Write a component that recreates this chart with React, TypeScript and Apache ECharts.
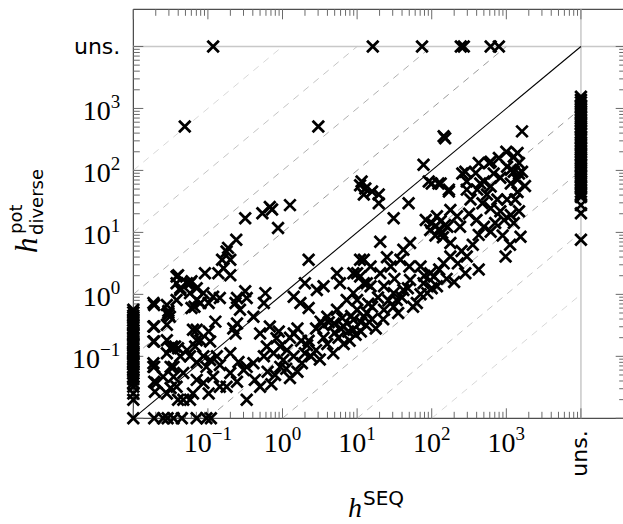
import React, { useEffect, useRef } from 'react';
import * as echarts from 'echarts';

// Both axes are logarithmic: values below are log10 of h.
const AXIS_MIN = -2;
const AXIS_MAX = 4.6;
const UNS_POS = 4; // where "uns." sits on both axes
const decadeLabels = [-1, 0, 1, 2, 3];
const tickDecades = [-2, -1, 0, 1, 2, 3];
const minorMultipliers = [2, 3, 4, 5, 6, 7, 8, 9];
const refOffsets = [-4, -3, -2, -1, 1, 2, 3, 4];
const refColors: Record<number, string> = { 1: '#9a9a9a', 2: '#b0b0b0', 3: '#c4c4c4', 4: '#d8d8d8' };

// log10 h^pot of points on the left edge (h^SEQ = 10^-2)
const leftEdgePot = [-0.25, -0.29, -0.34, -0.37, -0.42, -0.46, -0.49, -0.54, -0.58, -0.63, -0.66, -0.71, -0.76, -0.8, -0.83, -0.88, -0.93, -0.96, -1.01, -1.06, -1.1, -1.13, -1.19, -1.24, -1.28, -1.33, -1.37, -1.43, -1.49, -1.6, -1.7, -2.0];
// log10 h^SEQ of points on the bottom edge (h^pot = 10^-2)
const bottomEdgeSeq = [-1.72, -1.6, -1.54, -1.46, -1.35, -1.15, -1.02, -0.96];
// log10 h^pot of points with h^SEQ = uns.
const unsSeqPot = [3.19, 3.14, 3.1, 3.05, 3.01, 2.96, 2.92, 2.87, 2.83, 2.78, 2.74, 2.69, 2.65, 2.6, 2.55, 2.51, 2.46, 2.42, 2.37, 2.33, 2.28, 2.24, 2.19, 2.15, 2.1, 2.06, 2.01, 1.97, 1.92, 1.88, 1.83, 1.79, 1.74, 1.7, 1.65, 1.61, 1.57, 1.44, 1.31, 0.88];
// log10 h^SEQ of points with h^pot = uns.
const unsPotSeq = [-0.93, 1.21, 1.87, 2.39, 2.43, 2.79, 2.9];
// [log10 h^SEQ, log10 h^pot]
const cloud: [number, number][] = [
  [-1.72, -0.17], [-1.72, -0.52], [-1.72, -0.76], [-1.72, -1.17], [-1.72, -1.41], [-1.71, -1.57],
  [-1.53, -0.27], [-1.53, -0.33], [-1.5, -0.87], [-1.5, -1.17], [-1.46, -1.33], [-1.5, -1.51],
  [-1.42, 0.29], [-1.42, -0.09], [-1.37, 0.07], [-1.44, -0.84], [-1.37, -1.0], [-1.33, -1.27], [-1.2, -1.6], [-1.33, -1.7],
  [-1.24, 0.18], [-1.15, -0.09], [-1.18, -0.2], [-1.2, -0.57], [-1.15, -0.74], [-1.24, -1.0], [-1.15, -1.1], [-1.15, -1.38],
  [-0.75, 0.69], [-0.81, 0.56], [-0.7, 0.56], [-0.79, 0.42], [-0.86, 0.34], [-0.7, 0.31], [-1.04, 0.34], [-1.22, 0.21],
  [-1.4, 0.31], [-1.42, 0.18], [-1.37, 0.1], [-1.28, 0.18], [-1.15, 0.1], [-1.24, 0.02], [-1.06, 0.02], [-0.93, -0.04],
  [-0.84, -0.06], [-1.1, -0.14], [-1.22, -0.22], [-0.99, -0.14], [-0.61, -0.06], [-0.5, 0.05], [-0.57, -0.25], [-0.63, -0.14],
  [-0.23, 0.02], [-0.25, -0.14], [-0.39, -0.36], [-0.48, -0.06],
  [-1.73, -0.14], [-1.55, -0.17], [-1.53, -0.3], [-1.51, -0.36], [-1.73, -0.52], [-1.55, -0.49], [-1.73, -0.76], [-1.55, -0.74],
  [-1.48, -0.84], [-1.73, -1.11], [-1.55, -0.95], [-1.4, -0.87], [-1.28, -0.9], [-1.17, -0.84], [-1.1, -0.74], [-1.15, -0.57],
  [-0.99, -0.6], [-0.9, -0.44], [-0.97, -0.76], [-1.06, -1.0], [-0.97, -1.06], [-0.88, -1.0], [-1.02, -1.17], [-0.84, -1.14],
  [-0.66, -0.55], [-0.61, -0.47], [-0.63, -0.63], [-0.7, -0.95], [-0.59, -1.09], [-0.48, -1.17], [-0.39, -1.11], [-0.3, -0.63],
  [-0.17, -0.52], [-0.08, -0.71], [-0.21, -0.84], [-0.03, -0.84], [0.06, -0.9], [-0.12, -0.95], [-0.25, -1.0], [0.01, -1.06],
  [0.15, -1.0], [0.26, -1.11], [-0.03, -1.17], [0.15, -0.63], [0.33, -0.82],
  [-1.73, -1.17], [-1.69, -1.43], [-1.6, -1.33], [-1.46, -1.17], [-1.42, -1.49], [-1.55, -1.6], [-1.4, -1.7], [-1.24, -1.7],
  [-1.06, -1.43], [-0.99, -1.6], [-0.84, -1.49], [-0.75, -1.49], [-0.93, -1.33], [-0.7, -1.27], [-0.52, -1.22], [-0.48, -1.7],
  [-0.3, -1.49], [-0.37, -1.38], [-0.61, -1.41],
  [0.35, 0.56], [0.3, 0.18], [0.15, -0.04], [0.24, -0.14], [0.35, -0.22], [0.46, 0.07], [0.55, 0.13], [0.73, 0.34],
  [0.77, 0.18], [0.95, 0.34], [1.09, 0.56], [1.04, 0.29], [1.13, 0.18], [0.95, 0.02], [0.86, -0.09], [0.73, -0.25],
  [0.6, -0.36], [0.51, -0.44], [0.69, -0.47], [0.82, -0.52], [0.95, -0.57], [1.09, -0.36], [0.95, -0.41],
  [2.16, 2.55], [2.18, 2.52], [3.21, 2.63], [1.89, 2.09],
  [1.06, 1.82], [1.11, 1.71], [1.2, 1.66], [1.29, 1.61], [1.09, 1.61], [1.29, 1.47], [1.04, 1.76],
  [1.49, 1.23], [1.69, 1.47], [1.96, 1.82], [2.09, 1.79], [2.23, 1.69], [1.31, 0.85],
  [2.63, 2.12], [2.79, 2.14], [3.15, 2.28], [3.17, 2.12], [3.01, 2.06], [3.1, 1.98], [3.21, 1.98], [2.45, 1.98],
  [2.59, 1.96], [2.7, 1.82], [2.79, 1.74], [2.92, 1.88], [3.06, 1.79], [3.15, 1.85], [2.47, 1.69], [2.61, 1.69],
  [2.74, 1.61], [2.88, 1.53], [3.01, 1.53], [3.12, 1.53], [2.52, 1.53], [2.68, 1.47], [2.79, 1.39], [2.92, 1.34],
  [3.06, 1.28], [3.17, 1.34], [2.97, 1.2], [3.1, 1.15], [2.7, 1.09], [2.79, 1.01], [2.63, 0.96], [3.19, 0.93],
  [2.99, 0.61], [2.63, 0.4], [2.45, 0.34], [2.47, 0.61], [2.25, 0.83], [2.14, 0.99], [1.98, 1.04], [1.92, 1.2],
  [2.07, 1.26], [2.25, 1.36], [2.34, 1.26], [2.21, 1.09], [2.38, 1.09], [2.25, 0.61], [2.16, 0.5], [1.98, 0.34],
  [1.85, 0.45], [1.71, 0.83], [1.62, 0.72], [1.58, 0.56], [1.45, 0.45], [1.31, 0.34], [1.18, 0.45], [1.04, 0.56],
  [1.0, 0.34], [1.09, 0.18], [1.18, 0.13], [1.36, 0.13], [1.49, 0.02], [1.62, 0.07], [1.71, 0.23], [1.89, 0.18],
  [2.03, 0.29], [1.8, -0.14], [1.49, -0.2], [1.36, -0.25], [1.53, -0.09], [1.94, 0.02], [2.07, 0.13], [1.0, -0.09], [1.13, -0.3],
  [2.0, 1.15], [2.05, 1.1], [2.1, 1.05], [2.12, 1.18], [2.18, 1.12], [2.15, 0.92], [2.05, 0.95],
  [3.1, 2.22], [3.17, 1.95], [3.06, 2.01], [2.41, 1.95], [2.47, 1.82], [2.65, 1.79], [2.77, 2.12], [2.83, 1.95],
  [2.0, 1.79], [2.12, 1.79], [2.23, 1.66],
  [-1.31, 2.71], [0.48, 2.71],
  [-0.5, 1.23], [-0.27, 1.31], [-0.17, 1.41], [-0.14, 1.37], [0.1, 1.44], [-0.06, 1.07], [-0.73, 0.75], [-0.62, 0.88],
  [0.35, -0.75], [0.45, -0.55], [0.55, -0.7], [0.62, -0.45], [0.7, -0.62], [0.8, -0.38], [0.88, -0.6], [1.0, -0.25],
  [1.05, -0.45], [1.2, -0.2], [1.28, -0.05],
  [-0.2, -1.25], [-0.1, -1.3], [0.05, -1.2], [0.1, -1.35], [0.2, -1.25], [-0.15, -1.45], [0.3, -0.95], [0.25, -0.75],
  [0.1, -0.7], [0.38, -1.0], [-0.05, -0.6], [0.2, -0.55],
  [0.45, -0.9], [0.5, -1.05], [0.6, -0.8], [0.68, -0.95], [0.75, -0.7], [0.82, -0.8], [0.9, -0.75], [0.98, -0.65],
  [1.05, -0.6], [1.12, -0.5], [1.2, -0.4], [1.25, -0.55], [0.78, -0.55], [0.92, -0.35], [1.15, -0.15], [0.55, -0.5],
  [1.35, -0.4], [1.42, -0.1], [1.55, -0.3], [1.6, -0.05], [1.68, 0.1], [1.75, -0.2], [1.85, 0.0], [1.9, 0.3],
  [2.0, 0.1], [2.1, 0.4], [2.2, 0.25], [1.7, 0.45], [1.5, 0.25], [1.4, 0.6],
  [2.3, 0.2], [2.4, 0.7], [2.55, 0.8], [2.6, 1.2], [2.85, 1.15], [2.95, 0.95], [3.05, 0.8], [2.5, 1.3],
  [2.35, 0.5], [3.15, 1.65], [3.25, 1.75], [2.9, 2.2], [3.0, 2.3],
];

const SERIF = 'Liberation Serif';
const SANS = 'DejaVu Sans';

function labelFormatter(isY: boolean) {
  return (v: number) => {
    const r = Math.round(v);
    if (Math.abs(v - r) > 1e-6) return '';
    if (r === UNS_POS) return isY ? '{u|uns.}' : '';
    if (decadeLabels.indexOf(r) >= 0) return '{b|10}{s|' + (r < 0 ? '\u2212' + -r : String(r)) + '}';
    return '';
  };
}

const rich = {
  b: { fontFamily: SERIF, fontSize: 28, lineHeight: 32, verticalAlign: 'bottom', color: '#000' },
  s: { fontFamily: SERIF, fontSize: 19, verticalAlign: 'top', color: '#000' },
  u: { fontFamily: SANS, fontSize: 22, color: '#000' },
};

const txt = (text: string, family: string, size: number, extra: Record<string, any> = {}) => ({
  text, fontFamily: family, fontSize: size, fill: '#000', lineHeight: Math.round(size * 0.8),
  align: 'left', verticalAlign: 'middle', textAlign: 'left', textVerticalAlign: 'middle', ...extra,
});

export default function App() {
  const ref = useRef<HTMLDivElement>(null);
  useEffect(() => {
    if (!ref.current) return;
    const chart = echarts.init(ref.current, undefined, { renderer: 'svg' });

    const points: number[][] = [
      ...leftEdgePot.map((y) => [AXIS_MIN, y]),
      ...bottomEdgeSeq.map((x) => [x, AXIS_MIN]),
      ...unsSeqPot.map((y) => [UNS_POS, y]),
      ...unsPotSeq.map((x) => [x, UNS_POS]),
      ...cloud,
    ];

    const tickVals: number[][] = [];
    tickDecades.forEach((d) => {
      tickVals.push([d, 1]);
      minorMultipliers.forEach((m) => tickVals.push([d + Math.log10(m), 0]));
    });
    tickVals.push([UNS_POS, 1]);

    const refSeries = refOffsets.map((k) => {
      const x0 = Math.max(AXIS_MIN, AXIS_MIN - k);
      const x1 = Math.min(UNS_POS, UNS_POS - k);
      return {
        type: 'line',
        data: [[x0, x0 + k], [x1, x1 + k]],
        symbol: 'none',
        silent: true,
        lineStyle: { color: refColors[Math.abs(k)], width: 1, type: [7, 6] },
        z: 1,
      };
    });

    const tickStyle = { stroke: '#6a6a6a', lineWidth: 1 };

    chart.setOption({
      animation: false,
      grid: {
        left: 133.3, top: 9.3, width: 492.4, height: 409,
        show: true, borderColor: '#222', borderWidth: 1, backgroundColor: '#fff',
      },
      xAxis: {
        type: 'value', min: AXIS_MIN, max: AXIS_MAX, interval: 1,
        axisLine: { show: false }, axisTick: { show: false }, splitLine: { show: false },
        axisLabel: { margin: 6, formatter: labelFormatter(false), rich },
      },
      yAxis: {
        type: 'value', min: AXIS_MIN, max: AXIS_MAX, interval: 1,
        axisLine: { show: false }, axisTick: { show: false }, splitLine: { show: false },
        axisLabel: { margin: 13, formatter: labelFormatter(true), rich },
      },
      graphic: [
        { type: 'text', x: 348, y: 507, style: txt('h', SERIF, 28, { fontStyle: 'italic' }) },
        { type: 'text', x: 363, y: 498, style: txt('SEQ', SANS, 20) },
        {
          type: 'group', x: 37, y: 253, rotation: Math.PI / 2,
          children: [
            { type: 'text', x: 0, y: -10.5, style: txt('h', SERIF, 31, { fontStyle: 'italic' }) },
            { type: 'text', x: 19, y: -21.3, style: txt('pot', SANS, 18) },
            { type: 'text', x: 18, y: -0.3, style: txt('diverse', SANS, 18) },
          ],
        },
      ],
      series: [
        {
          type: 'line', data: [[AXIS_MIN, UNS_POS], [AXIS_MAX, UNS_POS]], symbol: 'none', silent: true,
          lineStyle: { color: '#c8c8c8', width: 1.5 }, z: 1,
        },
        {
          type: 'line', data: [[UNS_POS, AXIS_MIN], [UNS_POS, AXIS_MAX]], symbol: 'none', silent: true,
          lineStyle: { color: '#c8c8c8', width: 1.5 }, z: 1,
        },
        ...refSeries,
        {
          type: 'line', data: [[AXIS_MIN, AXIS_MIN], [UNS_POS, UNS_POS]], symbol: 'none', silent: true,
          lineStyle: { color: '#000', width: 1.1 }, z: 2,
        },
        {
          type: 'custom', silent: true, clip: false, z: 3,
          data: tickVals.map((t) => [t[0], AXIS_MIN, t[1]]),
          encode: { x: 0, y: 1 },
          renderItem: (params: any, api: any) => {
            const cs = params.coordSys;
            const len = api.value(2) ? 10 : 6.5;
            const px = api.coord([api.value(0), AXIS_MIN])[0];
            const bottom = cs.y + cs.height;
            return {
              type: 'group',
              children: [
                { type: 'line', shape: { x1: px, y1: bottom, x2: px, y2: bottom - len }, style: tickStyle },
                { type: 'line', shape: { x1: px, y1: cs.y, x2: px, y2: cs.y + len }, style: tickStyle },
              ],
            };
          },
        },
        {
          type: 'custom', silent: true, clip: false, z: 3,
          data: tickVals.map((t) => [AXIS_MIN, t[0], t[1]]),
          encode: { x: 0, y: 1 },
          renderItem: (params: any, api: any) => {
            const cs = params.coordSys;
            const len = api.value(2) ? 10 : 6.5;
            const py = api.coord([AXIS_MIN, api.value(1)])[1];
            const right = cs.x + cs.width;
            return {
              type: 'group',
              children: [
                { type: 'line', shape: { x1: cs.x, y1: py, x2: cs.x + len, y2: py }, style: tickStyle },
                { type: 'line', shape: { x1: right, y1: py, x2: right - len, y2: py }, style: tickStyle },
              ],
            };
          },
        },
        {
          type: 'custom', silent: true, clip: false, z: 3,
          data: [[UNS_POS, AXIS_MIN]],
          encode: { x: 0, y: 1 },
          renderItem: (params: any, api: any) => {
            const cs = params.coordSys;
            const px = api.coord([api.value(0), AXIS_MIN])[0];
            return {
              type: 'text', x: px - 1, y: cs.y + cs.height + 12, rotation: Math.PI / 2,
              style: { text: 'uns.', fontFamily: SANS, fontSize: 22, fill: '#000', align: 'right', verticalAlign: 'middle', textAlign: 'right', textVerticalAlign: 'middle' },
            };
          },
        },
        {
          type: 'scatter', data: points, clip: false, z: 4,
          symbol: 'path://M0,0L10,10M10,0L0,10', symbolSize: 11.5,
          itemStyle: { color: 'none', borderColor: '#000', borderWidth: 2.8, opacity: 1 },
          silent: true,
        },
      ],
    });
    return () => chart.dispose();
  }, []);

  return (
    <div style={{ position: 'fixed', left: 0, top: 0, width: 623, height: 524, overflow: 'hidden', background: '#fff' }}>
      <div ref={ref} style={{ width: 640, height: 524 }} />
    </div>
  );
}
